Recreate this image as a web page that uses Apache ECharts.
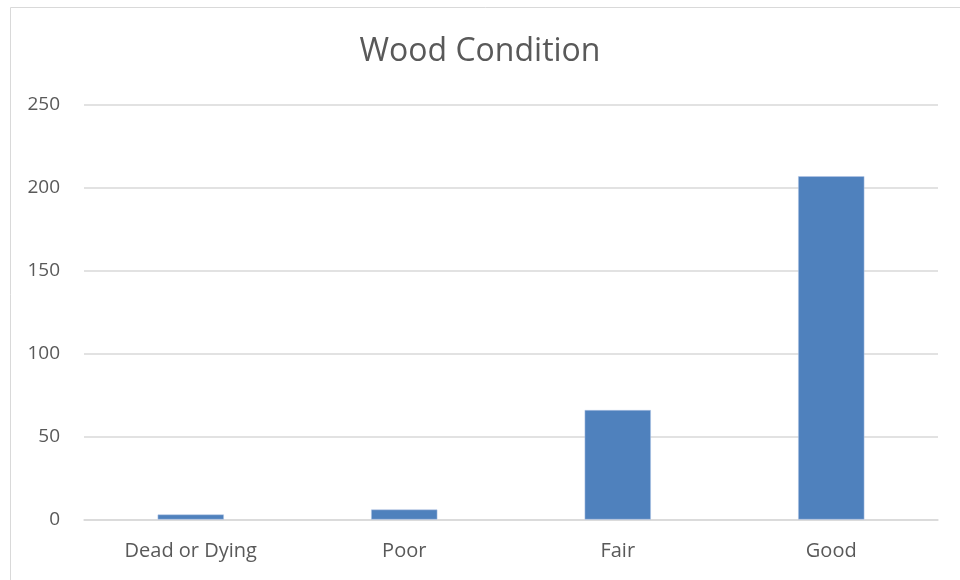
<!DOCTYPE html>
<html><head><meta charset="utf-8">
<script src="https://cdn.jsdelivr.net/npm/echarts@6/dist/echarts.min.js"></script>
<style>html,body{margin:0;padding:0;background:#fff}#c{width:960px;height:580px}</style>
</head><body><div id="c"></div>
<script>
const categories = ["Dead or Dying", "Poor", "Fair", "Good"];
const values = [3, 6, 66, 207];
const yTicks = [0, 50, 100, 150, 200, 250];

const chart = echarts.init(document.getElementById('c'));
chart.setOption({
  animation: false,
  graphic: [{type:'rect', shape:{x:10.5,y:7.5,width:980,height:600}, style:{fill:'none', stroke:'#d9d9d9', lineWidth:1}, silent:true}],
  title: {text:'Wood Condition', left:'center', top:31, textStyle:{fontFamily:'Open Sans', fontSize:32, fontWeight:'normal', color:'#595959'}},
  grid: {left:84, right:22, top:105, bottom:60.5, containLabel:false},
  xAxis: {type:'category', data:categories,
    axisLine:{lineStyle:{color:'#d9d9d9', width:1.5}}, axisTick:{show:false},
    axisLabel:{fontFamily:'Open Sans', fontSize:20, color:'#595959', margin:22}},
  yAxis: {type:'value', min:yTicks[0], max:yTicks[yTicks.length-1], interval:50,
    axisLine:{show:false}, axisTick:{show:false},
    splitLine:{lineStyle:{color:'#d9d9d9', width:1.5}},
    axisLabel:{fontFamily:'Open Sans', fontSize:19, color:'#595959', margin:24}},
  series: [{type:'bar', data:values, barWidth:'31%',
    itemStyle:{color:'#4f81bd', borderColor:'#b4c7e7', borderWidth:0.5}}]
});
</script></body></html>
